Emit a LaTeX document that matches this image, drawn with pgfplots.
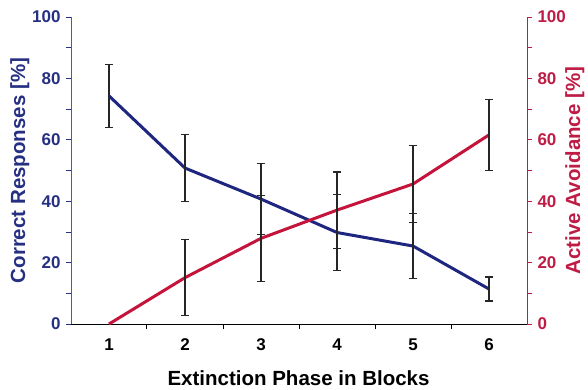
\documentclass[border=0pt]{standalone}
\usepackage{pgfplots}
\pgfplotsset{compat=1.18}
\usepackage{fontspec}
\setmainfont{Liberation Sans}
\definecolor{cblue}{RGB}{30,38,128}
\definecolor{cred}{RGB}{196,20,60}
\definecolor{tblue}{RGB}{38,48,130}
\definecolor{tred}{RGB}{190,28,68}
\pgfplotstableread{
x y e
1 74.3 10.3
2 50.8 10.8
3 40.7 11.5
4 29.8 12.3
5 25.4 10.6
6 11.4 3.9
}\correct
\pgfplotstableread{
x y e
1 0 0
2 15.1 12.3
3 27.9 14.1
4 37.1 12.4
5 45.6 12.4
6 61.6 11.5
}\avoid
\pgfplotstableread{
x y e
2 15.1 12.3
3 27.9 14.1
4 37.1 12.4
5 45.6 12.4
6 61.6 11.5
}\avoiderr
\begin{document}
\begin{tikzpicture}
\useasboundingbox (-71pt,-65pt) rectangle (517pt,324pt);
\pgfplotsset{
  common/.style={
    scale only axis, width=456pt, height=307pt,
    xmin=0.5, xmax=6.5, ymin=0, ymax=100,
    tick align=outside,
    major tick length=5pt, minor tick length=5pt,
    /pgf/number format/assume math mode=true,
    tick label style={font=\fontsize{17}{17}\selectfont\bfseries},
    label style={font=\fontsize{20.5}{20.5}\selectfont\bfseries},
    ytick={0,20,...,100}, minor ytick={10,30,...,90},
  },
  ebars/.style={
    error bars/.cd, y dir=both, y explicit,
    error bar style={black!85, line width=1.1pt},
    error mark options={rotate=90, mark size=4pt, black!85, line width=1.1pt},
  },
}
\begin{axis}[common,
  axis y line*=left, axis x line*=bottom,
  x axis line style={black, line width=1pt, -},
  y axis line style={tblue!80, line width=0.8pt, -},
  xtick={1,...,6}, xticklabels={1,2,3,4,5,6},
  minor xtick={1.5,2.5,3.5,4.5,5.5},
  major x tick style={draw=none}, minor x tick style={draw=black, line width=1pt},
  y tick style={tblue, line width=0.8pt},
  xticklabel style={black, yshift=-6pt},
  yticklabel style={tblue, xshift=-2pt},
  xlabel={Extinction Phase in Blocks},
  ylabel={Correct Responses [\%]},
  xlabel style={at={(axis description cs:0.499,-0.176)}, anchor=center, black},
  ylabel style={at={(axis description cs:-0.112,0.5)}, anchor=center, tblue},
]
\addplot[cblue, line width=3pt, ebars] table[x=x, y=y, y error=e] {\correct};
\end{axis}
\begin{axis}[common,
  axis y line*=right, axis x line=none,
  y axis line style={tred, line width=0.8pt, -},
  y tick style={tred, line width=0.8pt},
  yticklabel style={tred, xshift=2pt},
  ylabel={Active Avoidance [\%]},
  ylabel style={at={(axis description cs:1.105,0.5)}, anchor=center, tred, rotate=0},
]
\addplot[cred, line width=3pt] table[x=x, y=y] {\avoid};
\addplot[draw=none, mark=none, ebars] table[x=x, y=y, y error=e] {\avoiderr};
\end{axis}
\end{tikzpicture}
\end{document}
